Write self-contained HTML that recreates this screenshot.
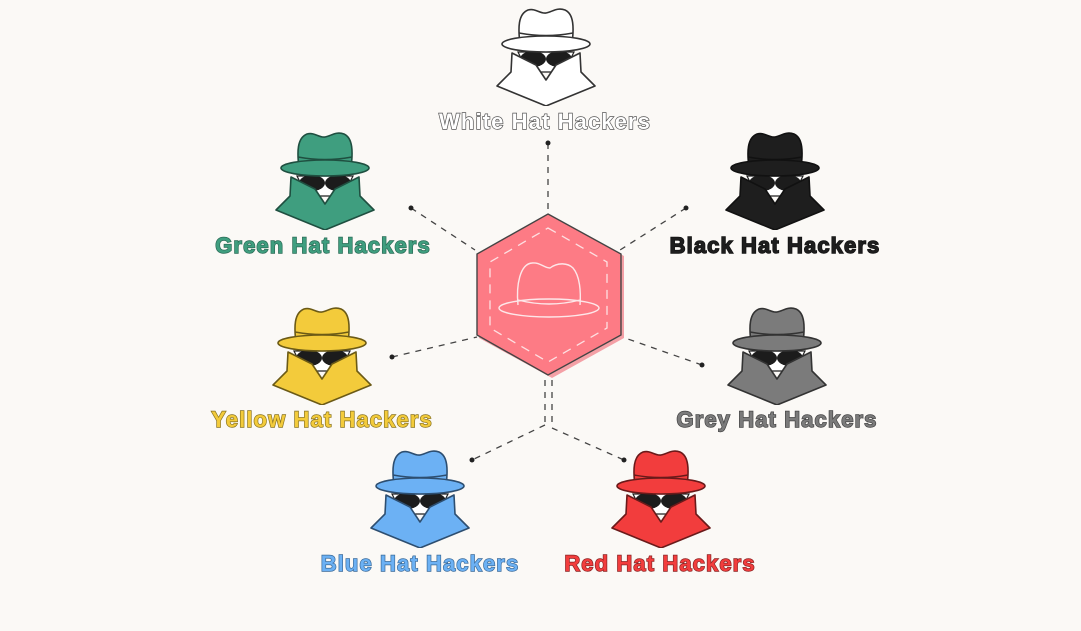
<!DOCTYPE html>
<html><head><meta charset="utf-8"><style>
html,body{margin:0;padding:0;background:#fbf9f6;width:1081px;height:631px;overflow:hidden}
.l{position:absolute;font-family:"Liberation Sans",sans-serif;font-weight:bold;font-size:22px;letter-spacing:1.1px;white-space:nowrap;transform:translateX(-50%);-webkit-text-stroke:1.4px;paint-order:stroke fill}
</style></head><body>
<svg width="1081" height="631" style="position:absolute;left:0;top:0">
<defs>
<symbol id="h" viewBox="0 0 100 98">
<path d="M22,44 L78,44 L68,64 L32,64 Z" fill="#fff" stroke="#222" stroke-width="1.2"/>
<ellipse cx="37" cy="51" rx="13" ry="8" fill="#1c1c1c"/>
<ellipse cx="63" cy="51" rx="13" ry="8" fill="#1c1c1c"/>
<path d="M16,45 L40,57 L50,72 L60,57 L84,45 L85,64 L99,78 L50,98 L1,78 L15,64 Z" style="fill:var(--c);stroke:var(--s)" stroke-width="1.6" stroke-linejoin="round"/>
<path d="M24,36 C22,20 22,6 32,2 C40,0 44,6 50,5 C56,4 61,-1 69,2 C78,6 78,20 76,36 Z" style="fill:var(--c);stroke:var(--s)" stroke-width="1.6"/>
<path d="M23,25 Q50,30 77,25" fill="none" style="stroke:var(--s)" stroke-width="1.4"/>
<ellipse cx="50" cy="36" rx="44" ry="8" style="fill:var(--c);stroke:var(--s)" stroke-width="1.6"/>
</symbol>
</defs>
<g stroke="#444" stroke-width="1.3" stroke-dasharray="6,6" fill="none">
<line x1="548" y1="143" x2="548" y2="210"/>
<line x1="411" y1="208" x2="475" y2="250"/>
<line x1="686" y1="208" x2="620" y2="250"/>
<line x1="392" y1="357" x2="477" y2="337"/>
<line x1="702" y1="365" x2="625" y2="338"/>
<line x1="545" y1="380" x2="545" y2="425"/>
<line x1="552" y1="380" x2="552" y2="428"/>
<line x1="545" y1="425" x2="472" y2="460"/>
<line x1="552" y1="428" x2="624" y2="460"/>
</g>
<g fill="#222">
<circle cx="548" cy="143" r="2.5"/><circle cx="411" cy="208" r="2.5"/><circle cx="686" cy="208" r="2.5"/>
<circle cx="392" cy="357" r="2.5"/><circle cx="702" cy="365" r="2.5"/><circle cx="472" cy="460" r="2.5"/><circle cx="624" cy="460" r="2.5"/>
</g>
<polygon points="550,216 624,256 624,338 552,378 479,338 479,256" fill="#f4a0a6"/>
<polygon points="548,214 621,254 621,335 548,375 477,335 477,254" fill="#fd7b85" stroke="#444" stroke-width="1.4"/>
<polygon points="548,228 607,262 607,328 548,362 490,328 490,262" fill="none" stroke="#fde0e2" stroke-width="1.3" stroke-dasharray="9,7"/>
<g fill="none" stroke="#fde7e9" stroke-width="1.4">
<path d="M518,305 C516,285 520,264 532,263 C540,262 544,268 550,268 C558,262 568,263 573,268 C580,276 581,292 580,305"/>
<path d="M518,300 Q549,308 580,300"/>
<ellipse cx="549" cy="308" rx="50" ry="9"/>
</g>
<use href="#h" x="496" y="8" width="100" height="98" style="--c:#ffffff;--s:#333"/>
<use href="#h" x="275" y="132" width="100" height="98" style="--c:#3f9e7f;--s:#1f4f40"/>
<use href="#h" x="725" y="132" width="100" height="98" style="--c:#1e1e1e;--s:#111"/>
<use href="#h" x="272" y="307" width="100" height="98" style="--c:#f3cb3b;--s:#6b5a16"/>
<use href="#h" x="727" y="307" width="100" height="98" style="--c:#7b7b7b;--s:#333"/>
<use href="#h" x="370" y="450" width="100" height="98" style="--c:#6cb1f4;--s:#2d4e70"/>
<use href="#h" x="611" y="450" width="100" height="98" style="--c:#f23d3d;--s:#6a1a1a"/>
</svg>
<div class="l" style="left:545px;top:109px;color:#fff;-webkit-text-stroke-color:#555">White Hat Hackers</div>
<div class="l" style="left:323px;top:233px;color:#3f9e7f;-webkit-text-stroke-color:#2a6b56">Green Hat Hackers</div>
<div class="l" style="left:775px;top:233px;color:#1e1e1e;-webkit-text-stroke-color:#111">Black Hat Hackers</div>
<div class="l" style="left:322px;top:407px;color:#f3cb3b;-webkit-text-stroke-color:#8a7420">Yellow Hat Hackers</div>
<div class="l" style="left:777px;top:407px;color:#7b7b7b;-webkit-text-stroke-color:#444">Grey Hat Hackers</div>
<div class="l" style="left:420px;top:551px;color:#6cb1f4;-webkit-text-stroke-color:#3a6a99">Blue Hat Hackers</div>
<div class="l" style="left:660px;top:551px;color:#f23d3d;-webkit-text-stroke-color:#8a2222">Red Hat Hackers</div>
</body></html>
